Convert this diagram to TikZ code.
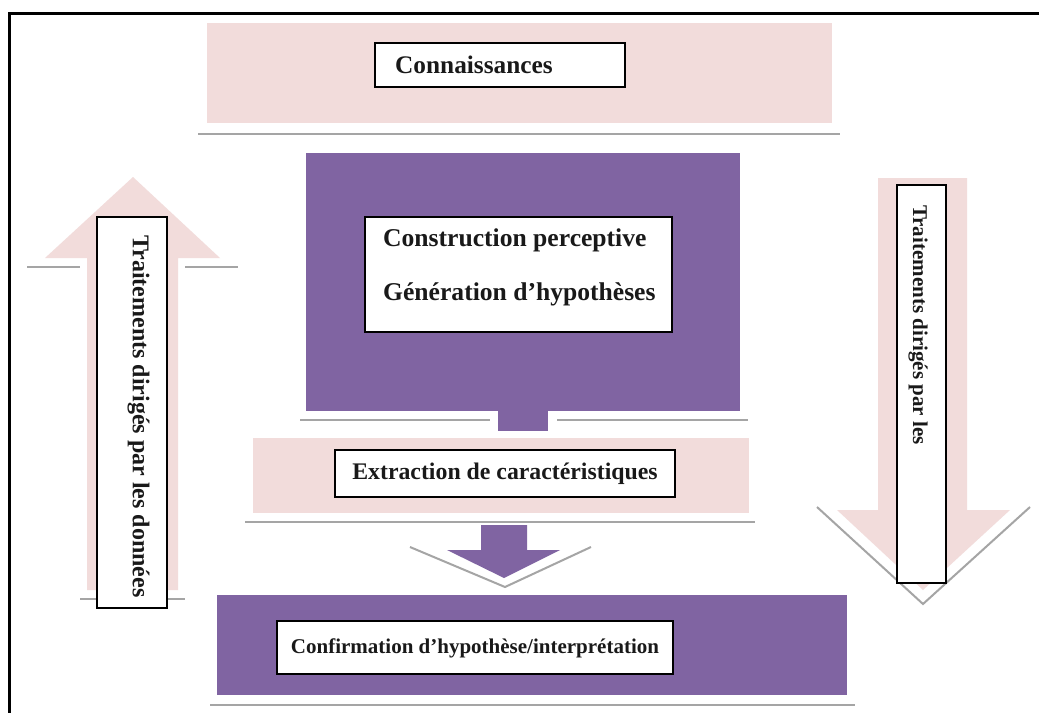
\documentclass[tikz,border=0pt]{standalone}
\usepackage{fontspec}
\setmainfont{Liberation Serif}
\definecolor{rosepale}{HTML}{F2DCDB}
\definecolor{violet}{HTML}{8064A2}
\definecolor{trait}{HTML}{A5A5A5}
\tikzset{
  band/.style={fill=rosepale, draw=none, inner sep=0pt},
  bloc/.style={fill=violet, draw=none, inner sep=0pt},
  cadre/.style={fill=white, draw=black, line width=1.2pt, inner sep=0pt},
  label/.style={font=\bfseries, inner sep=0pt, text=black!90},
  filet/.style={draw=trait, line width=2.2pt},
}
\newcommand{\fsz}[1]{\fontsize{#1}{#1}\selectfont}
\begin{document}
\begin{tikzpicture}[x=1pt, y=-1pt]
\useasboundingbox (0,0) rectangle (1039,713);
\fill[white] (0,0) rectangle (1039,713);

% outer frame, open towards the right and bottom
\draw[line width=3.5pt] (1039,13.5) -- (9.5,13.5) -- (9.5,713);

% --- knowledge band ---
\node[band, minimum width=625pt, minimum height=100pt] (conn) at (519.5,73) {};
\draw[filet] (198,134) -- (840,134);
\node[cadre, minimum width=250pt, minimum height=44pt] (connbox) at (500,65) {};
\node[label, anchor=west, font=\bfseries\fsz{25.3}] (conntxt) at (395,65) {Connaissances};

% --- perceptive construction block ---
\node[bloc, minimum width=434pt, minimum height=258pt] (constr) at (523,282) {};
\fill[violet] (498,410) rectangle (548,431);
\draw[filet] (300,420) -- (490,420);
\draw[filet] (557,420) -- (748,420);
\node[cadre, minimum width=307pt, minimum height=115pt] (genbox) at (518.5,274.5) {};
\node[label, anchor=west, font=\bfseries\fsz{25.6}] (constrtxt) at (383,240) {Construction perceptive};
\node[label, anchor=west, font=\bfseries\fsz{25.6}] (gentxt) at (383,294) {Génération d’hypothèses};

% --- feature extraction band ---
\node[band, minimum width=496pt, minimum height=75pt] (extr) at (501,475.5) {};
\draw[filet] (245,522) -- (755,522);
\node[cadre, minimum width=340pt, minimum height=47pt] (extrbox) at (505,473.5) {};
\node[label, font=\bfseries\fsz{23.8}] (extrtxt) at (505,474) {Extraction de caractéristiques};

% --- downward purple arrow ---
\coordinate (tipA) at (504,578);
\fill[violet] (481,525) -- (527,525) -- (527,550) -- (560,550) -- (tipA) -- (447,550) -- (481,550) -- cycle;
\draw[draw=trait, line width=2pt] (410,547) -- (505,587) -- (591,547);

% --- confirmation block ---
\node[bloc, minimum width=630pt, minimum height=100pt] (conf) at (532,645) {};
\draw[filet] (210,705) -- (855,705);
\node[cadre, minimum width=396pt, minimum height=53pt] (confbox) at (475,647.5) {};
\node[label, font=\bfseries\fsz{21}] (conftxt) at (475,648) {Confirmation d’hypothèse/interprétation};

% --- left upward arrow (data-driven) ---
\fill[rosepale] (87,590) -- (87,258) -- (45,258) -- (133,177) -- (220,258) -- (178,258) -- (178,590) -- cycle;
\draw[filet] (27,267) -- (80,267);
\draw[filet] (185,267) -- (238,267);
\draw[filet] (80,599) -- (185,599);
\node[cadre, minimum width=70pt, minimum height=391pt] (leftbox) at (132,412.5) {};
\node[label, rotate=-90, anchor=west, font=\bfseries\fsz{24}] (lefttxt) at (138.5,235) {Traitements dirigés par les données};

% --- right downward arrow ---
\fill[rosepale] (878,178) -- (967,178) -- (967,510) -- (1010,510) -- (923,590) -- (837,510) -- (878,510) -- cycle;
\draw[draw=trait, line width=2pt] (817,507) -- (923,604) -- (1030,507);
\node[cadre, minimum width=49pt, minimum height=398pt] (rightbox) at (921.5,384) {};
\node[label, rotate=-90, anchor=west, font=\bfseries\fsz{21}] (righttxt) at (918,205) {Traitements dirigés par les};
\end{tikzpicture}
\end{document}
